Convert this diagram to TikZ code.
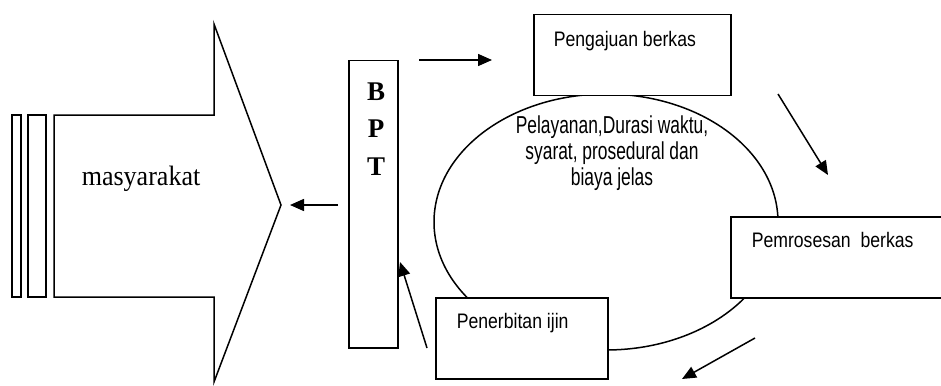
\documentclass[tikz,border=0pt]{standalone}
\usepackage{fontspec}
\setmainfont{Liberation Serif}
\setsansfont{Liberation Sans}
\usetikzlibrary{calc,positioning,arrows.meta,shapes.geometric}

\newcommand{\narrow}[2][0.84]{\scalebox{#1}[1]{#2}}

\tikzset{
  box/.style={rectangle, draw, fill=white, line width=1.5pt, inner sep=0pt},
  txt/.style={anchor=base west, inner sep=0pt, font=\sffamily\fontsize{21}{24}\selectfont},
  bpt/.style={anchor=base, inner sep=0pt, font=\bfseries\fontsize{27}{30}\selectfont},
  arr/.style={-{Triangle[length=14pt,width=12pt]}, line width=1.5pt}
}

\begin{document}
\begin{tikzpicture}[x=1pt,y=-1pt,line width=1.5pt,line join=miter]
    \clip (0,0) rectangle (941,385);

    % left side
    \draw (12,115) rectangle (21,297);
    \draw (28,115) rectangle (46,297);
    \draw (54,115) -- (214,115) -- (214,24) -- (281,205) -- (214,382) -- (214,297) -- (54,297) -- cycle;
    \coordinate (tip) at (290,205);
    \node[anchor=base west, inner sep=0pt, font=\fontsize{28}{30}\selectfont] (M) at (81,185) {\narrow[0.93]{masyarakat}};

    % BPT
    \draw (348,60) node[box, anchor=north west, minimum width=49pt, minimum height=287pt] (BPT) {};
    \node[bpt] (B) at (376,100) {B};
    \node[bpt] (P) at (376,137) {P};
    \node[bpt] (T) at (376,175) {T};

    % ellipse
    \draw (606,222) node[ellipse, draw, minimum width=344pt, minimum height=256pt, inner sep=0pt] (E) {};
    \node[font=\sffamily\fontsize{24.5}{26}\selectfont, align=center, anchor=base, inner sep=0pt] (Et) at (612,185)
      {\narrow[0.71]{Pelayanan,Durasi waktu,}\\\narrow[0.71]{syarat, prosedural dan}\\\narrow[0.71]{biaya jelas}};

    % boxes
    \draw (533,14) node[box, anchor=north west, minimum width=197pt, minimum height=81pt] (A) {};
    \node[txt] (At) at (553,47) {\narrow{Pengajuan berkas}};
    \draw (730,216) node[box, anchor=north west, minimum width=230pt, minimum height=81pt] (C) {};
    \node[txt] (Ct) at (751,247) {\narrow{Pemrosesan\ \ berkas}};
    \draw (435,297) node[box, anchor=north west, minimum width=172pt, minimum height=81pt] (D) {};
    \node[txt] (Dt) at (456,328) {\narrow{Penerbitan ijin}};

    % arrows
    \coordinate (a1) at (419,60);  \coordinate (a2) at (492,60);
    \coordinate (b1) at (778,94);  \coordinate (b2) at (828,175);
    \coordinate (c1) at (755,338); \coordinate (c2) at (682,379);
    \coordinate (d1) at (427,348); \coordinate (d2) at (400,262);
    \coordinate (e1) at (338,205);
    \draw[arr] (a1) -- (a2);
    \draw[arr] (b1) -- (b2);
    \draw[arr] (c1) -- (c2);
    \draw[arr] (d1) -- (d2);
    \draw[arr] (e1) -- (tip);

\end{tikzpicture}
\end{document}
